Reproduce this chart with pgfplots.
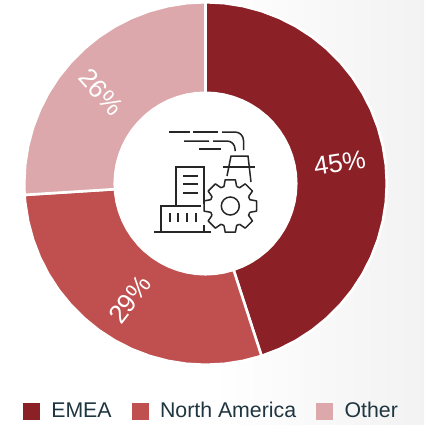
\documentclass[border=0pt]{standalone}
\usepackage{pgfplots}
\usepgfplotslibrary{polar}
\pgfplotsset{compat=1.18}
\usepackage{fontspec}
\setmainfont{Liberation Sans}
\definecolor{emea}{HTML}{8B2027}
\definecolor{namerica}{HTML}{C0504F}
\definecolor{other}{HTML}{DDA8AB}
\definecolor{legtext}{HTML}{1F3540}
\pgfplotsset{
  wedge/.style={fill=#1,draw=white,line width=2.6pt,line join=miter,forget plot},
  swatch/.style={legend image code/.code={\fill[#1] (0pt,-8pt) rectangle (16pt,8pt);}},
}
\begin{document}
\begin{tikzpicture}[x=1pt,y=-1pt]
\path[use as bounding box] (0,0) rectangle (424,425);
\shade[left color=white,right color=black!5,middle color=white] (0,0) rectangle (424,425);
\begin{polaraxis}[
  at={(205.5pt,-183.5pt)},anchor=center,
  scale only axis,width=362.6pt,height=362.6pt,
  hide axis,clip=false,
  xmin=0,xmax=360,ymin=0,ymax=181.8,
  legend columns=-1,
  legend style={at={(0.0,-0.092)},anchor=north west,xshift=-4.5pt,draw=none,fill=none,
    font=\fontsize{21.3}{23}\selectfont,text=legtext,
    /tikz/every odd column/.append style={column sep=10pt},
    /tikz/every even column/.append style={column sep=18pt}},
]
% EMEA 45%
\addplot[wedge=emea] coordinates {
(90,181.8)(84,181.8)(78,181.8)(72,181.8)(66,181.8)(60,181.8)(54,181.8)(48,181.8)(42,181.8)(36,181.8)(30,181.8)(24,181.8)(18,181.8)(12,181.8)(6,181.8)(0,181.8)
(-6,181.8)(-12,181.8)(-18,181.8)(-24,181.8)(-30,181.8)(-36,181.8)(-42,181.8)(-48,181.8)(-54,181.8)(-60,181.8)(-66,181.8)(-72,181.8)
(-72,91)(-66,91)(-60,91)(-54,91)(-48,91)(-42,91)(-36,91)(-30,91)(-24,91)(-18,91)(-12,91)(-6,91)
(0,91)(6,91)(12,91)(18,91)(24,91)(30,91)(36,91)(42,91)(48,91)(54,91)(60,91)(66,91)(72,91)(78,91)(84,91)(90,91)(90,181.8)};
% North America 29%
\addplot[wedge=namerica] coordinates {
(-72,181.8)(-78,181.8)(-84,181.8)(-90,181.8)(-96,181.8)(-102,181.8)(-108,181.8)(-114,181.8)(-120,181.8)(-126,181.8)(-132,181.8)(-138,181.8)(-144,181.8)(-150,181.8)(-156,181.8)(-162,181.8)(-168,181.8)(-174,181.8)(-176.4,181.8)
(-176.4,91)(-174,91)(-168,91)(-162,91)(-156,91)(-150,91)(-144,91)(-138,91)(-132,91)(-126,91)(-120,91)(-114,91)(-108,91)(-102,91)(-96,91)(-90,91)(-84,91)(-78,91)(-72,91)(-72,181.8)};
% Other 26%
\addplot[wedge=other] coordinates {
(183.6,181.8)(180,181.8)(174,181.8)(168,181.8)(162,181.8)(156,181.8)(150,181.8)(144,181.8)(138,181.8)(132,181.8)(126,181.8)(120,181.8)(114,181.8)(108,181.8)(102,181.8)(96,181.8)(90,181.8)
(90,91)(96,91)(102,91)(108,91)(114,91)(120,91)(126,91)(132,91)(138,91)(144,91)(150,91)(156,91)(162,91)(168,91)(174,91)(180,91)(183.6,91)(183.6,181.8)};
% legend entries only
\addlegendimage{swatch=emea}\addlegendentry{EMEA}
\addlegendimage{swatch=namerica}\addlegendentry{North America}
\addlegendimage{swatch=other}\addlegendentry{Other}
\node[text=white,inner sep=0pt,font=\fontsize{26}{28}\selectfont,rotate=9] at (axis cs:8.7,136) {45\%};
\node[text=white,inner sep=0pt,font=\fontsize{26}{28}\selectfont,rotate=52] at (axis cs:237,139) {29\%};
\node[text=white,inner sep=0pt,font=\fontsize{26}{28}\selectfont,rotate=-48] at (axis cs:138.8,139) {26\%};
\end{polaraxis}
% white hole and icon, coordinates are reference pixels
\fill[white] (205.5,183.5) circle (91);
\begin{scope}[line width=1.5pt,black!85,line cap=butt]
\draw (169,132)--(190,132) (193,132)--(218,132);
\draw (222,132)--(235,132) arc[start angle=-90,end angle=0,radius=8.5]--(243.5,150);
\draw (184,141)--(209,141) (213,141)--(227,141) arc[start angle=-90,end angle=0,radius=8]--(235,151);
\draw (199,149)--(221,149);
\draw (227,176)--(231,156)--(248,156)--(251,182);
\draw (223,167)--(255,167);
\draw (176,205)--(176,167)--(204,167)--(204,204);
\draw (183,176)--(198,176) (183,184)--(198,184) (183,193)--(198,193);
\draw (204,225)--(204,232);
\draw (161,232)--(161,206)--(201,206);
\draw (170,213)--(170,222) (178,213)--(178,222) (187,213)--(187,222) (196,213)--(196,222);
\draw (154,232)--(211,232);
\foreach \a in {0,45,...,315}{
  \draw[line join=round,shift={(230.3,206)}]
    ({cos(\a-18)*20.5},{-sin(\a-18)*20.5})--({cos(\a-11)*26.7},{-sin(\a-11)*26.7})
    --({cos(\a+11)*26.7},{-sin(\a+11)*26.7})--({cos(\a+18)*20.5},{-sin(\a+18)*20.5})
    --({cos(\a+27)*20.5},{-sin(\a+27)*20.5});
}
\draw (230.3,206) circle (9);
\end{scope}
\end{tikzpicture}
\end{document}
